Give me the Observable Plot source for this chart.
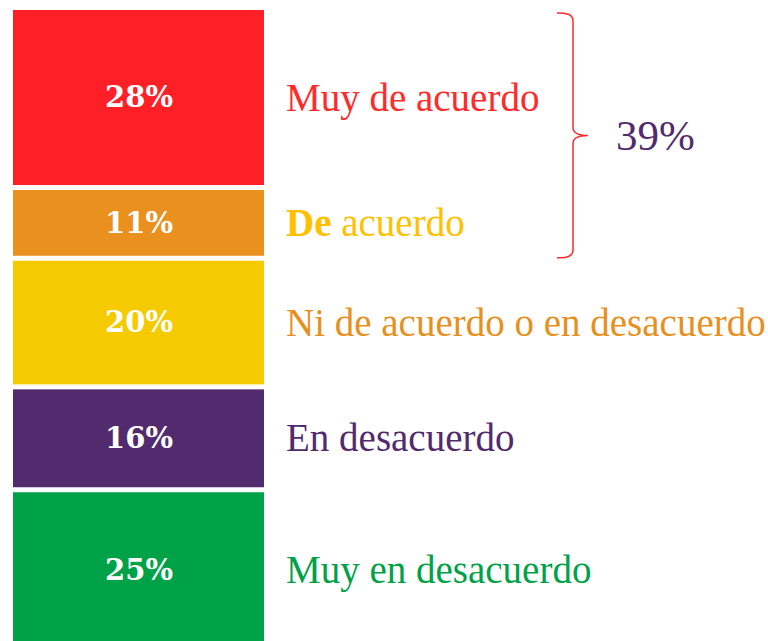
<!DOCTYPE html>
<html>
<head>
<meta charset="utf-8">
<script src="https://cdn.jsdelivr.net/npm/d3@7"></script>
<script src="https://cdn.jsdelivr.net/npm/@observablehq/plot@0.6"></script>
<style>
  html, body { margin: 0; padding: 0; background: #ffffff; overflow: hidden; }
  #chart svg { display: block; }
</style>
</head>
<body>
<div id="chart"></div>
<script>
// ---- data ----
const categories = ["Muy de acuerdo", "De acuerdo", "Ni de acuerdo o en desacuerdo", "En desacuerdo", "Muy en desacuerdo"];
const values = [28, 11, 20, 16, 25];
const barColors = ["#FF1F26", "#E9901E", "#F5CB00", "#522B6F", "#00A248"];
const labelColors = ["#FF2A2A", "#FFC000", "#E8901E", "#522B6F", "#00A248"];
const groupedCategories = ["Muy de acuerdo", "De acuerdo"];

// build stacked rows
let cum = 0;
const rows = categories.map((c, i) => {
  const r = {category: c, value: values[i], y1: cum, y2: cum + values[i], bar: barColors[i], labelColor: labelColors[i]};
  cum += values[i];
  return r;
});
const group = rows.filter(r => groupedCategories.includes(r.category));
const groupStart = d3.min(group, r => r.y1);
const groupEnd = d3.max(group, r => r.y2);
const groupTotal = d3.sum(group, r => r.value);

const W = 768, H = 641;
const serif = "'Liberation Serif', 'Times New Roman', serif";

const brace = (index, scales) => {
  const y0 = scales.y(groupStart) + 3, y1 = scales.y(groupEnd) - 3;
  const mid = (y0 + y1) / 2;
  const xa = 557, xb = 573, xc = 588;
  const p = d3.path();
  p.moveTo(xa, y0);
  p.quadraticCurveTo(xb, y0 - 1, xb, y0 + 8);
  p.lineTo(xb, mid - 8);
  p.quadraticCurveTo(xb, mid, xc, mid);
  p.quadraticCurveTo(xb, mid, xb, mid + 8);
  p.lineTo(xb, y1 - 8);
  p.quadraticCurveTo(xb, y1 + 1, xa, y1);
  const path = d3.create("svg:path")
    .attr("d", p.toString())
    .attr("fill", "none")
    .attr("stroke", "#FF2A2A")
    .attr("stroke-width", 1.5);
  return path.node();
};

const chart = Plot.plot({
  width: W,
  height: H,
  margin: 0,
  x: {type: "band", domain: ["total"], range: [13, 264], padding: 0, axis: null},
  y: {domain: [0, 100], range: [10, 653], axis: null},
  color: {type: "identity"},
  marks: [
    Plot.barY(rows, {x: () => "total", y1: "y1", y2: "y2", fill: "bar", insetBottom: 5}),
    Plot.text(rows, {
      x: () => "total", y: d => (d.y1 + d.y2) / 2, dy: -2.5,
      text: d => d.value + "%", fill: "white",
      fontFamily: "'DejaVu Serif', serif", fontWeight: "bold", fontSize: 29
    }),
    Plot.text(rows, {
      x: () => "total", y: d => (d.y1 + d.y2) / 2, dy: -2.5, dx: 147,
      text: "category", fill: "labelColor", textAnchor: "start",
      fontFamily: serif, fontSize: 39
    }),
    brace,
    Plot.text([groupTotal], {
      x: () => "total", y: () => (groupStart + groupEnd) / 2, dx: 477,
      text: d => d + "%", fill: "#522B6F", textAnchor: "start",
      fontFamily: serif, fontSize: 43
    })
  ]
});

// make "De" bold in "De acuerdo"
d3.select(chart).selectAll("text").each(function() {
  const t = d3.select(this);
  if (t.text() === "De acuerdo") {
    t.text(null);
    t.append("tspan").attr("font-weight", "bold").text("De");
    t.append("tspan").text(" acuerdo");
  }
});

document.getElementById("chart").appendChild(chart);
</script>
</body>
</html>
